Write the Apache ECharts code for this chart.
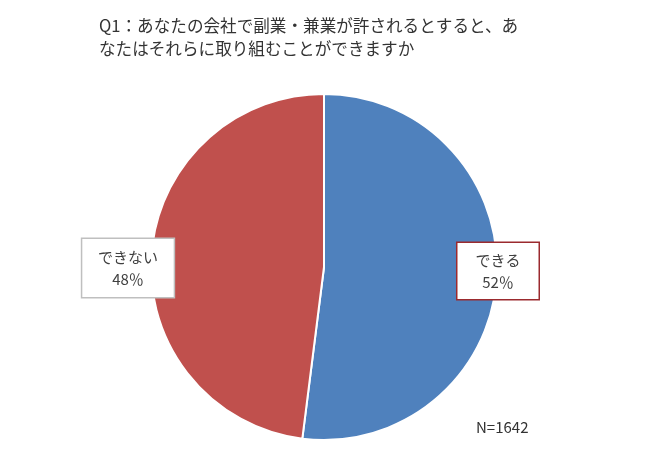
<!DOCTYPE html>
<html>
<head>
<meta charset="utf-8">
<script src="https://cdn.jsdelivr.net/npm/echarts@6/dist/echarts.min.js"></script>
<style>
  html, body { margin: 0; padding: 0; background: #fff; }
  #chart { width: 650px; height: 463px; }
</style>
</head>
<body>
<div id="chart"></div>
<script>
const titleText = 'Q1：あなたの会社で副業・兼業が許されるとすると、あ\nなたはそれらに取り組むことができますか';
const categories = ['できる', 'できない'];
const shares = [52, 48];
const sliceColors = ['#4F81BD', '#C0504D'];
const labelBorders = ['#9B2A2E', '#BFBFBF'];
const sampleNote = 'N=1642';

// label box centres
const labelSpots = [[498, 271], [128, 268]];

const chartDom = echarts.init(document.getElementById('chart'));
const fontFamily = '"Noto Sans CJK JP", "Noto Sans", sans-serif';

const option = {
  animation: false,
  title: [{
    text: titleText,
    left: 94,
    top: 9,
    textStyle: {
      color: '#333333',
      fontSize: 16.6,
      fontWeight: 'normal',
      fontFamily: fontFamily,
      lineHeight: 23
    }
  }, {
    text: sampleNote,
    left: 471,
    top: 415,
    textStyle: {
      color: '#333333',
      fontSize: 15,
      fontWeight: 'normal',
      fontFamily: fontFamily
    }
  }],
  series: [{
    type: 'pie',
    center: [324, 267],
    radius: 173,
    startAngle: 90,
    clockwise: true,
    itemStyle: {
      borderColor: '#ffffff',
      borderWidth: 2
    },
    labelLine: { show: false },
    label: {
      show: true,
      overflow: 'none',
      formatter: '{b}\n{c}％',
      color: '#404040',
      fontSize: 15,
      lineHeight: 22,
      fontFamily: fontFamily,
      align: 'center',
      backgroundColor: '#ffffff',
      borderWidth: 1.5,
      padding: [6, 16]
    },
    labelLayout: function (params) {
      const p = labelSpots[params.dataIndex];
      return { x: p[0], y: p[1], align: 'center', verticalAlign: 'middle' };
    },
    data: categories.map(function (name, i) {
      return {
        name: name,
        value: shares[i],
        itemStyle: { color: sliceColors[i] },
        label: {
          borderColor: labelBorders[i],
          padding: i === 0 ? [6, 18] : [7, 17]
        }
      };
    })
  }]
};
chartDom.setOption(option);
</script>
</body>
</html>
